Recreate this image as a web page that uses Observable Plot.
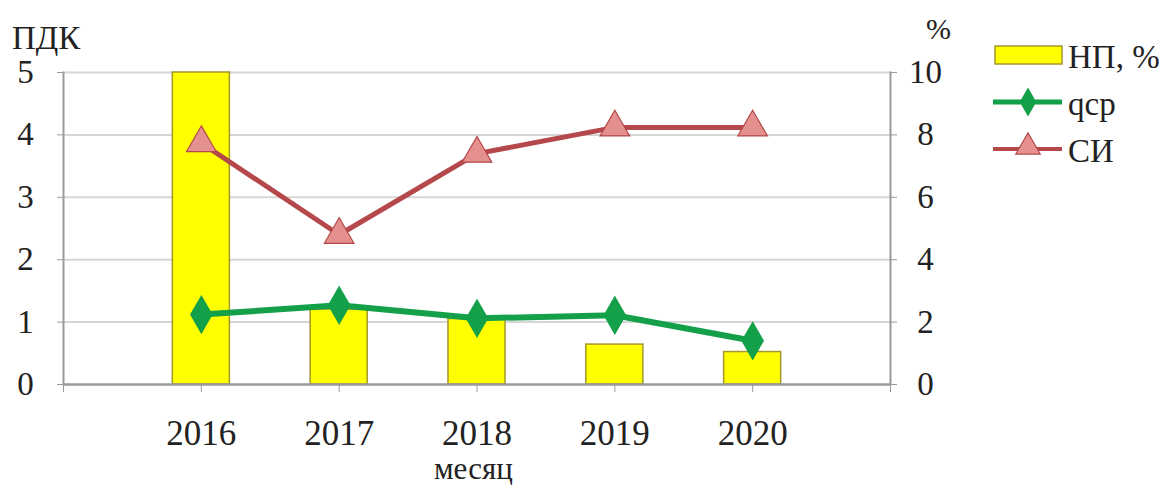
<!DOCTYPE html>
<html><head><meta charset="utf-8">
<script src="https://cdn.jsdelivr.net/npm/d3@7"></script>
<script src="https://cdn.jsdelivr.net/npm/@observablehq/plot@0.6"></script>
<style>
body{margin:0;background:#fff;font-family:"Liberation Serif","DejaVu Serif",serif;}
#wrap{position:relative;width:1169px;height:489px;overflow:hidden;}
.lbl{position:absolute;font-family:"Liberation Serif","DejaVu Serif",serif;color:#222;line-height:1;}
svg text{font-family:"Liberation Serif","DejaVu Serif",serif;}
</style></head>
<body><div id="wrap"></div>
<script>
const years = [2016, 2017, 2018, 2019, 2020];
const npPercent = [10, 2.4, 2.1, 1.28, 1.04];      // НП, % (right axis)
const qcp = [1.12, 1.27, 1.06, 1.11, 0.7];          // qср (ПДК, left axis)
const si = [3.87, 2.4, 3.7, 4.12, 4.12];            // СИ (left axis)
const leftTicks = [0, 1, 2, 3, 4, 5];
const rightTicks = [0, 2, 4, 6, 8, 10];
const xTickYears = [2015, 2016, 2017, 2018, 2019, 2020, 2021];
const seriesNames = ["НП, %", "qср", "СИ"];
const colors = {bar: "#ffff00", barStroke: "#a3982c", green: "#13a049", red: "#b5484a", redFill: "#e3908f"};
const FONT = "'Liberation Serif', 'DejaVu Serif', serif";

const data = years.map((y, i) => ({year: y, np: npPercent[i], q: qcp[i], s: si[i]}));

const chart = Plot.plot({
  width: 1169, height: 489,
  marginLeft: 63, marginRight: 279, marginTop: 72, marginBottom: 105,
  style: {fontFamily: FONT, fontSize: "33px", color: "#222", background: "#fff"},
  x: {type: "linear", domain: [2015, 2021]},
  y: {domain: [0, 5]},
  marks: [
    Plot.gridY(leftTicks.filter(d => d > 0), {stroke: "#d6d6d6", strokeOpacity: 1, strokeWidth: 2}),
    Plot.rectY(data, {x1: d => d.year - 0.207, x2: d => d.year + 0.207, y1: 0, y2: d => d.np / 2, fill: colors.bar, stroke: colors.barStroke, strokeWidth: 1.5}),
    Plot.frame({anchor: "left", stroke: "#9a9a9a", strokeWidth: 2}),
    Plot.frame({anchor: "right", stroke: "#9a9a9a", strokeWidth: 2}),
    Plot.ruleY([0], {stroke: "#9a9a9a", strokeWidth: 2.5}),
    Plot.axisY(leftTicks, {anchor: "left", tickSize: 6, tickPadding: 32, textAnchor: "middle", tickFormat: d => String(d), stroke: "#9a9a9a", label: null, fill: "#222", fontSize: 33}),
    Plot.axisY(rightTicks.map(d => d / 2), {anchor: "right", tickSize: 6, tickPadding: 29, textAnchor: "middle", tickFormat: d => String(d * 2), stroke: "#9a9a9a", label: null, fill: "#222", fontSize: 33}),
    Plot.axisX(xTickYears, {anchor: "bottom", tickSize: 8, tickPadding: 28, tickFormat: d => years.includes(d) ? String(d) : "", stroke: "#9a9a9a", label: null, fill: "#222", fontSize: 35}),
    Plot.line(data, {x: "year", y: "s", stroke: colors.red, strokeWidth: 5}),
    Plot.dot(data, {x: "year", y: "s", symbol: "triangle", r: 11, fill: colors.redFill, stroke: colors.red, strokeWidth: 1.2}),
    Plot.line(data, {x: "year", y: "q", stroke: colors.green, strokeWidth: 6}),
    Plot.dot(data, {x: "year", y: "q", symbol: "diamond", r: 11, fill: colors.green, stroke: colors.green})
  ]
});
const wrap = document.getElementById("wrap");
wrap.appendChild(chart);

function addLabel(text, left, top, size){
  const d = document.createElement("div");
  d.className = "lbl"; d.textContent = text;
  d.style.left = left + "px"; d.style.top = top + "px"; d.style.fontSize = size + "px";
  wrap.appendChild(d);
}
addLabel("ПДК", 12, 22, 33);
addLabel("%", 926, 14, 30);
addLabel("месяц", 434, 453, 31);

// Legend
const leg = d3.select(wrap).append("svg")
  .attr("width", 180).attr("height", 170)
  .style("position", "absolute").style("left", "990px").style("top", "30px");
leg.append("rect").attr("x", 5).attr("y", 16).attr("width", 67).attr("height", 18)
  .attr("fill", colors.bar).attr("stroke", colors.barStroke).attr("stroke-width", 1.5);
leg.append("line").attr("x1", 3).attr("x2", 72).attr("y1", 72).attr("y2", 72)
  .attr("stroke", colors.green).attr("stroke-width", 5);
leg.append("path").attr("d", d3.symbol(d3.symbolDiamond, 240)()).attr("transform", "translate(38,72)")
  .attr("fill", colors.green);
leg.append("line").attr("x1", 3).attr("x2", 72).attr("y1", 119).attr("y2", 119)
  .attr("stroke", colors.red).attr("stroke-width", 4);
leg.append("path").attr("d", d3.symbol(d3.symbolTriangle, 260)()).attr("transform", "translate(38,117)")
  .attr("fill", colors.redFill).attr("stroke", colors.red).attr("stroke-width", 1.2);
seriesNames.forEach((n, i) => {
  leg.append("text").attr("x", 78).attr("y", 26 + i * 47).attr("dy", "0.35em")
    .attr("font-family", FONT).attr("font-size", 33).attr("fill", "#222").text(n);
});
</script></body></html>
